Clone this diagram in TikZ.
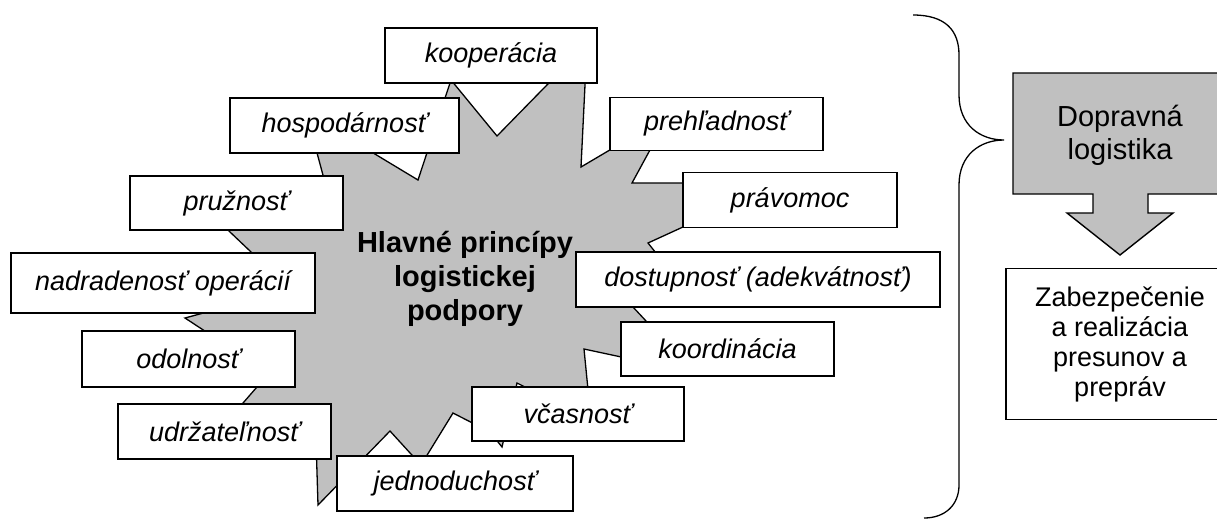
\documentclass[tikz,border=0pt]{standalone}
\usepackage{fontspec}
\setmainfont{Liberation Sans}
\usetikzlibrary{positioning}
\definecolor{sivaplocha}{RGB}{192,192,192}

\begin{document}
\begin{tikzpicture}[x=1pt, y=-1pt,
    princip/.style={rectangle, draw, fill=white, line width=1.4pt, minimum width=213pt, minimum height=55pt, inner sep=0pt, text centered, font=\fontsize{27}{32}\selectfont\itshape},
    hviezda/.style={draw, line width=1.3pt, fill=sivaplocha, line join=miter},
    doprava/.style={draw, line width=1.4pt, fill=sivaplocha, line join=miter},
    vysledok/.style={rectangle, draw, fill=white, line width=1.4pt, inner sep=0pt, align=center, font=\fontsize{27}{30}\selectfont}
]
\useasboundingbox (0,0) rectangle (1217,520);
\clip (0,0) rectangle (1217,520);

% Central star
\draw[hviezda] (451,80) -- (497,136) -- (587,44) -- (581,167) -- (669,115) -- (632,183)
  -- (779,183) -- (648,243) -- (660,258) -- (760,280) -- (619,292) -- (660,336)
  -- (760,350) -- (640,361) -- (584,349) -- (591,420) -- (517,383) -- (502,447)
  -- (490,432) -- (453,413) -- (421,465) -- (390,431) -- (318,505) -- (316,440)
  -- (230,418) -- (270,372) -- (220,341) -- (185,318) -- (240,303) -- (270,270)
  -- (210,213) -- (327,190) -- (313,138) -- (350,139) -- (418,180) -- cycle;
\node[font=\fontsize{29}{34}\selectfont\bfseries, align=center] (hlavne) at (465,279) {Hlavné princípy\\logistickej\\podpory};

% Principles
\node[princip, minimum width=212pt] (kooperacia) at (491,55.5) {kooperácia};
\node[princip, minimum width=229pt] (hospodarnost) at (344.5,125.5) {hospodárnosť};
\node[princip, minimum height=53pt] (prehladnost) at (716.5,124) {prehľadnosť};
\node[princip, minimum height=54pt] (pruznost) at (236.5,203) {pružnosť};
\node[princip, minimum width=214pt] (pravomoc) at (790,200) {právomoc};
\node[princip, minimum width=304pt, minimum height=60pt] (nadradenost) at (163,283) {nadradenosť operácií};
\node[princip, minimum width=364pt] (dostupnost) at (758,279.5) {dostupnosť (adekvátnosť)};
\node[princip, minimum height=56pt] (odolnost) at (188.5,359) {odolnosť};
\node[princip, minimum height=54pt] (koordinacia) at (727.5,349) {koordinácia};
\node[princip] (udrzatelnost) at (224.5,431.5) {udržateľnosť};
\node[princip, minimum width=212pt, minimum height=54pt] (vcasnost) at (578,414) {včasnosť};
\node[princip, minimum width=236pt] (jednoduchost) at (455,483.5) {jednoduchosť};

% Brace
\draw[line width=1.3pt] (913,15) .. controls (945,15) and (959,30) .. (959,55) -- (959,95)
  .. controls (959,125) and (980,140) .. (1004,140)
  .. controls (980,140) and (959,155) .. (959,185) -- (959,485)
  .. controls (959,505) and (945,518) .. (924,518);

% Transport logistics
\draw[doprava] (1013,73) -- (1230,73) -- (1230,194) -- (1148,194) -- (1148,213) -- (1173,213)
  -- (1120,255) -- (1067,213) -- (1093,213) -- (1093,194) -- (1013,194) -- cycle;
\node[align=center, font=\fontsize{29}{33}\selectfont] (dopravna) at (1120,135) {Dopravná\\logistika};
\node[vysledok, minimum width=228pt, minimum height=151pt] (zabezpecenie) at (1120,344) {Zabezpečenie\\a realizácia\\presunov a\\prepráv};

\end{tikzpicture}
\end{document}
